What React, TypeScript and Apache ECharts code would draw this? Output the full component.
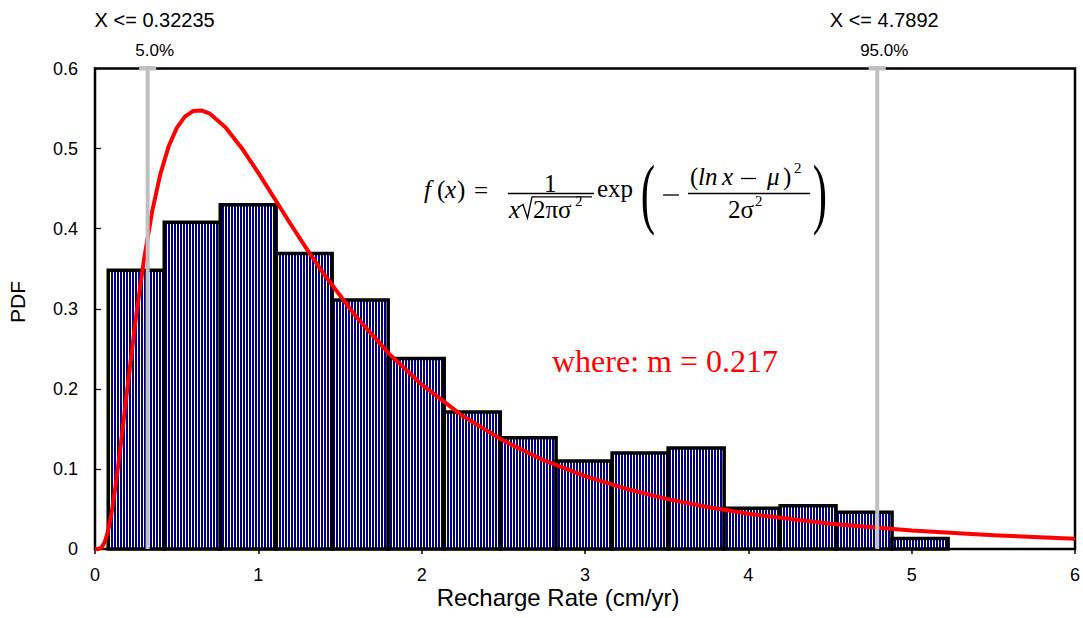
import { useEffect, useRef } from "react";
import * as echarts from "echarts";

// Histogram of sampled recharge rates (density per bin)
const binEdges = [0.081, 0.424, 0.767, 1.109, 1.452, 1.795, 2.138, 2.481, 2.823, 3.166, 3.509, 3.852, 4.195, 4.537, 4.88, 5.223];
const binDensity = [0.348, 0.408, 0.43, 0.369, 0.311, 0.238, 0.171, 0.139, 0.11, 0.12, 0.126, 0.051, 0.054, 0.046, 0.013];

// Fitted lognormal density
const fitX = [0, 0.02, 0.04, 0.06, 0.08, 0.1, 0.125, 0.15, 0.175, 0.2, 0.25, 0.3, 0.35, 0.4, 0.45, 0.5, 0.55, 0.6, 0.65, 0.7, 0.8, 0.9, 1.0, 1.1, 1.2, 1.3, 1.4, 1.6, 1.8, 2.0, 2.25, 2.5, 2.75, 3.0, 3.25, 3.5, 3.75, 4.0, 4.5, 5.0, 5.5, 6.0];
const fitPdf = [0, 0.0001, 0.0019, 0.0088, 0.0227, 0.0434, 0.0773, 0.117, 0.1599, 0.2038, 0.288, 0.3615, 0.4216, 0.4681, 0.5022, 0.5255, 0.5398, 0.5468, 0.5477, 0.544, 0.5264, 0.5002, 0.4696, 0.4373, 0.4049, 0.3735, 0.3437, 0.2898, 0.244, 0.2055, 0.1663, 0.1353, 0.1106, 0.091, 0.0753, 0.0626, 0.0524, 0.044, 0.0316, 0.023, 0.0171, 0.0128];

// Percentile delimiters
const cutoffX = [0.32235, 4.7892];
const cutoffLevel = ["5.0%", "95.0%"];

const X_MIN = 0;
const X_MAX = 6;
const X_STEP = 1;
const Y_MIN = 0;
const Y_MAX = 0.6;
const Y_STEP = 0.1;

const SANS = '"Liberation Sans", Arial, Helvetica, sans-serif';
const SERIF = '"Liberation Serif", "Times New Roman", serif';

function stripePattern() {
  const c = document.createElement("canvas");
  c.width = 3;
  c.height = 4;
  const g = c.getContext("2d")!;
  g.fillStyle = "#ffffff";
  g.fillRect(0, 0, 3, 4);
  g.fillStyle = "#000080";
  g.fillRect(0, 0, 2, 4);
  return { image: c.toDataURL(), repeat: "repeat", imageWidth: 3, imageHeight: 4 };
}

type Tok = { t: string; x: number; y: number; s?: number; it?: boolean };

// Formula pieces: f(x) = 1/(x sqrt(2 pi sigma^2)) exp( -(ln x - mu)^2 / (2 sigma^2) )
const formulaTokens: Tok[] = [
  { t: "f", x: 424, y: 189, it: true },
  { t: "(", x: 437, y: 189 },
  { t: "x", x: 445, y: 189, it: true },
  { t: ")", x: 457, y: 189 },
  { t: "=", x: 474, y: 190 },
  { t: "1", x: 544, y: 183 },
  { t: "x", x: 509, y: 209, it: true },
  { t: "2πσ", x: 533, y: 209 },
  { t: "2", x: 575, y: 201, s: 15 },
  { t: "exp", x: 597, y: 188 },
  { t: "(", x: 690, y: 176 },
  { t: "ln", x: 698, y: 176, it: true },
  { t: "x", x: 722, y: 176, it: true },
  { t: "μ", x: 767, y: 176, it: true },
  { t: ")", x: 783, y: 176 },
  { t: "2", x: 794, y: 168, s: 15 },
  { t: "2σ", x: 728, y: 209 },
  { t: "2", x: 755, y: 201, s: 15 },
];

function formulaGraphics(): any[] {
  const els: any[] = formulaTokens.map((k) => ({
    type: "text",
    x: k.x,
    y: k.y,
    style: {
      text: k.t,
      fill: "#000",
      font: `${k.it ? "italic " : ""}${k.s ?? 25}px ${SERIF}`,
      textAlign: "left",
      textVerticalAlign: "middle",
    },
  }));
  const stroke = { stroke: "#000", lineWidth: 1.3 };
  els.push(
    { type: "line", shape: { x1: 508, y1: 193.5, x2: 594, y2: 193.5 }, style: stroke },
    {
      type: "polyline",
      shape: { points: [[519, 207], [523, 204.5], [527.5, 218], [532, 196.8], [592, 196.8]] },
      style: { ...stroke, fill: null },
    },
    { type: "line", shape: { x1: 663, y1: 195, x2: 679, y2: 195 }, style: stroke },
    { type: "line", shape: { x1: 741, y1: 178.5, x2: 756, y2: 178.5 }, style: stroke },
    { type: "line", shape: { x1: 688, y1: 193.5, x2: 810, y2: 193.5 }, style: stroke },
    {
      type: "text",
      x: 648,
      y: 193,
      scaleX: 0.55,
      style: { text: "(", fill: "#000", font: `78px ${SERIF}`, textAlign: "center", textVerticalAlign: "middle" },
    },
    {
      type: "text",
      x: 820,
      y: 193,
      scaleX: 0.55,
      style: { text: ")", fill: "#000", font: `78px ${SERIF}`, textAlign: "center", textVerticalAlign: "middle" },
    }
  );
  return els;
}

export default function App() {
  const ref = useRef<HTMLDivElement>(null);

  useEffect(() => {
    document.body.style.margin = "0";
    const chart = echarts.init(ref.current!, null, { renderer: "svg" });
    const pattern = stripePattern();

    const histData = binDensity.map((h, i) => [binEdges[i], binEdges[i + 1], h]);
    const fitData = fitX.map((x, i) => [x, fitPdf[i]]);
    const cutoffData = cutoffX.map((x) => [x, Y_MAX]);

    chart.setOption({
      animation: false,
      backgroundColor: "#ffffff",
      grid: {
        left: 95,
        right: 7,
        top: 68.5,
        bottom: 69,
        show: true,
        borderColor: "#000",
        borderWidth: 2.5,
        backgroundColor: "transparent",
      },
      xAxis: {
        type: "value",
        min: X_MIN,
        max: X_MAX,
        interval: X_STEP,
        axisLine: { lineStyle: { color: "#000", width: 2 } },
        axisTick: { length: 5, lineStyle: { color: "#000", width: 1.5 } },
        splitLine: { show: false },
        axisLabel: { fontSize: 18, color: "#000", fontFamily: SANS, margin: 17 },
      },
      yAxis: {
        type: "value",
        min: Y_MIN,
        max: Y_MAX,
        interval: Y_STEP,
        axisLine: { show: true, lineStyle: { color: "#000", width: 2 } },
        axisTick: { show: true, inside: true, length: 6, lineStyle: { color: "#000", width: 1.2 } },
        splitLine: { show: false },
        axisLabel: {
          fontSize: 18,
          color: "#000",
          fontFamily: SANS,
          margin: 17,
          padding: [0, 0, 10, 0],
          formatter: (v: number) => (v === 0 ? "0" : v.toFixed(1)),
        },
      },
      series: [
        {
          type: "custom",
          name: "Histogram",
          z: 2,
          data: histData,
          encode: { x: [0, 1], y: 2 },
          renderItem: (_params: any, api: any) => {
            const x0 = api.value(0);
            const x1 = api.value(1);
            const h = api.value(2);
            const p0 = api.coord([x0, h]);
            const p1 = api.coord([x1, 0]);
            return {
              type: "rect",
              shape: { x: p0[0], y: p0[1], width: p1[0] - p0[0], height: p1[1] - p0[1] },
              style: { fill: pattern, stroke: "#000", lineWidth: 3.5 },
            };
          },
        },
        {
          type: "line",
          name: "Lognorm",
          z: 3,
          data: fitData,
          showSymbol: false,
          symbol: "none",
          smooth: false,
          lineStyle: { color: "#ff0000", width: 4, join: "round" },
        },
        {
          type: "custom",
          name: "Delimiters",
          z: 4,
          clip: false,
          data: cutoffData,
          encode: { x: 0, y: 1 },
          renderItem: (params: any, api: any) => {
            const x = api.value(0);
            const bottom = api.coord([x, Y_MIN]);
            const top = api.coord([x, Y_MAX]);
            const gray = "#c0c0c0";
            return {
              type: "group",
              children: [
                {
                  type: "line",
                  shape: { x1: bottom[0], y1: bottom[1], x2: top[0], y2: top[1] },
                  style: { stroke: gray, lineWidth: 4 },
                },
                {
                  type: "rect",
                  shape: { x: top[0] - 8.5, y: top[1] - 2.5, width: 17, height: 4.5 },
                  style: { fill: gray },
                },
                {
                  type: "text",
                  x: top[0] + 7,
                  y: top[1] - 18.5,
                  style: {
                    text: cutoffLevel[params.dataIndex],
                    fill: "#000",
                    font: `17px ${SANS}`,
                    textAlign: "center",
                    textVerticalAlign: "middle",
                  },
                },
                {
                  type: "text",
                  x: top[0] + 7,
                  y: top[1] - 49,
                  style: {
                    text: "X <= " + x,
                    fill: "#000",
                    font: `20px ${SANS}`,
                    textAlign: "center",
                    textVerticalAlign: "middle",
                  },
                },
              ],
            };
          },
        },
      ],
      graphic: [
        ...formulaGraphics(),
        {
          type: "text",
          x: 552,
          y: 361,
          style: {
            text: "where: m = 0.217",
            fill: "#ff0000",
            font: `32px ${SERIF}`,
            textAlign: "left",
            textVerticalAlign: "middle",
          },
        },
        {
          type: "text",
          x: 17,
          y: 302,
          rotation: Math.PI / 2,
          style: {
            text: "PDF",
            fill: "#000",
            font: `21px ${SANS}`,
            textAlign: "center",
            textVerticalAlign: "middle",
          },
        },
        {
          type: "text",
          x: 558,
          y: 597,
          style: {
            text: "Recharge Rate (cm/yr)",
            fill: "#000",
            font: `24px ${SANS}`,
            textAlign: "center",
            textVerticalAlign: "middle",
          },
        },
      ],
    });

    return () => chart.dispose();
  }, []);

  return <div ref={ref} style={{ width: 1083, height: 618 }} />;
}
